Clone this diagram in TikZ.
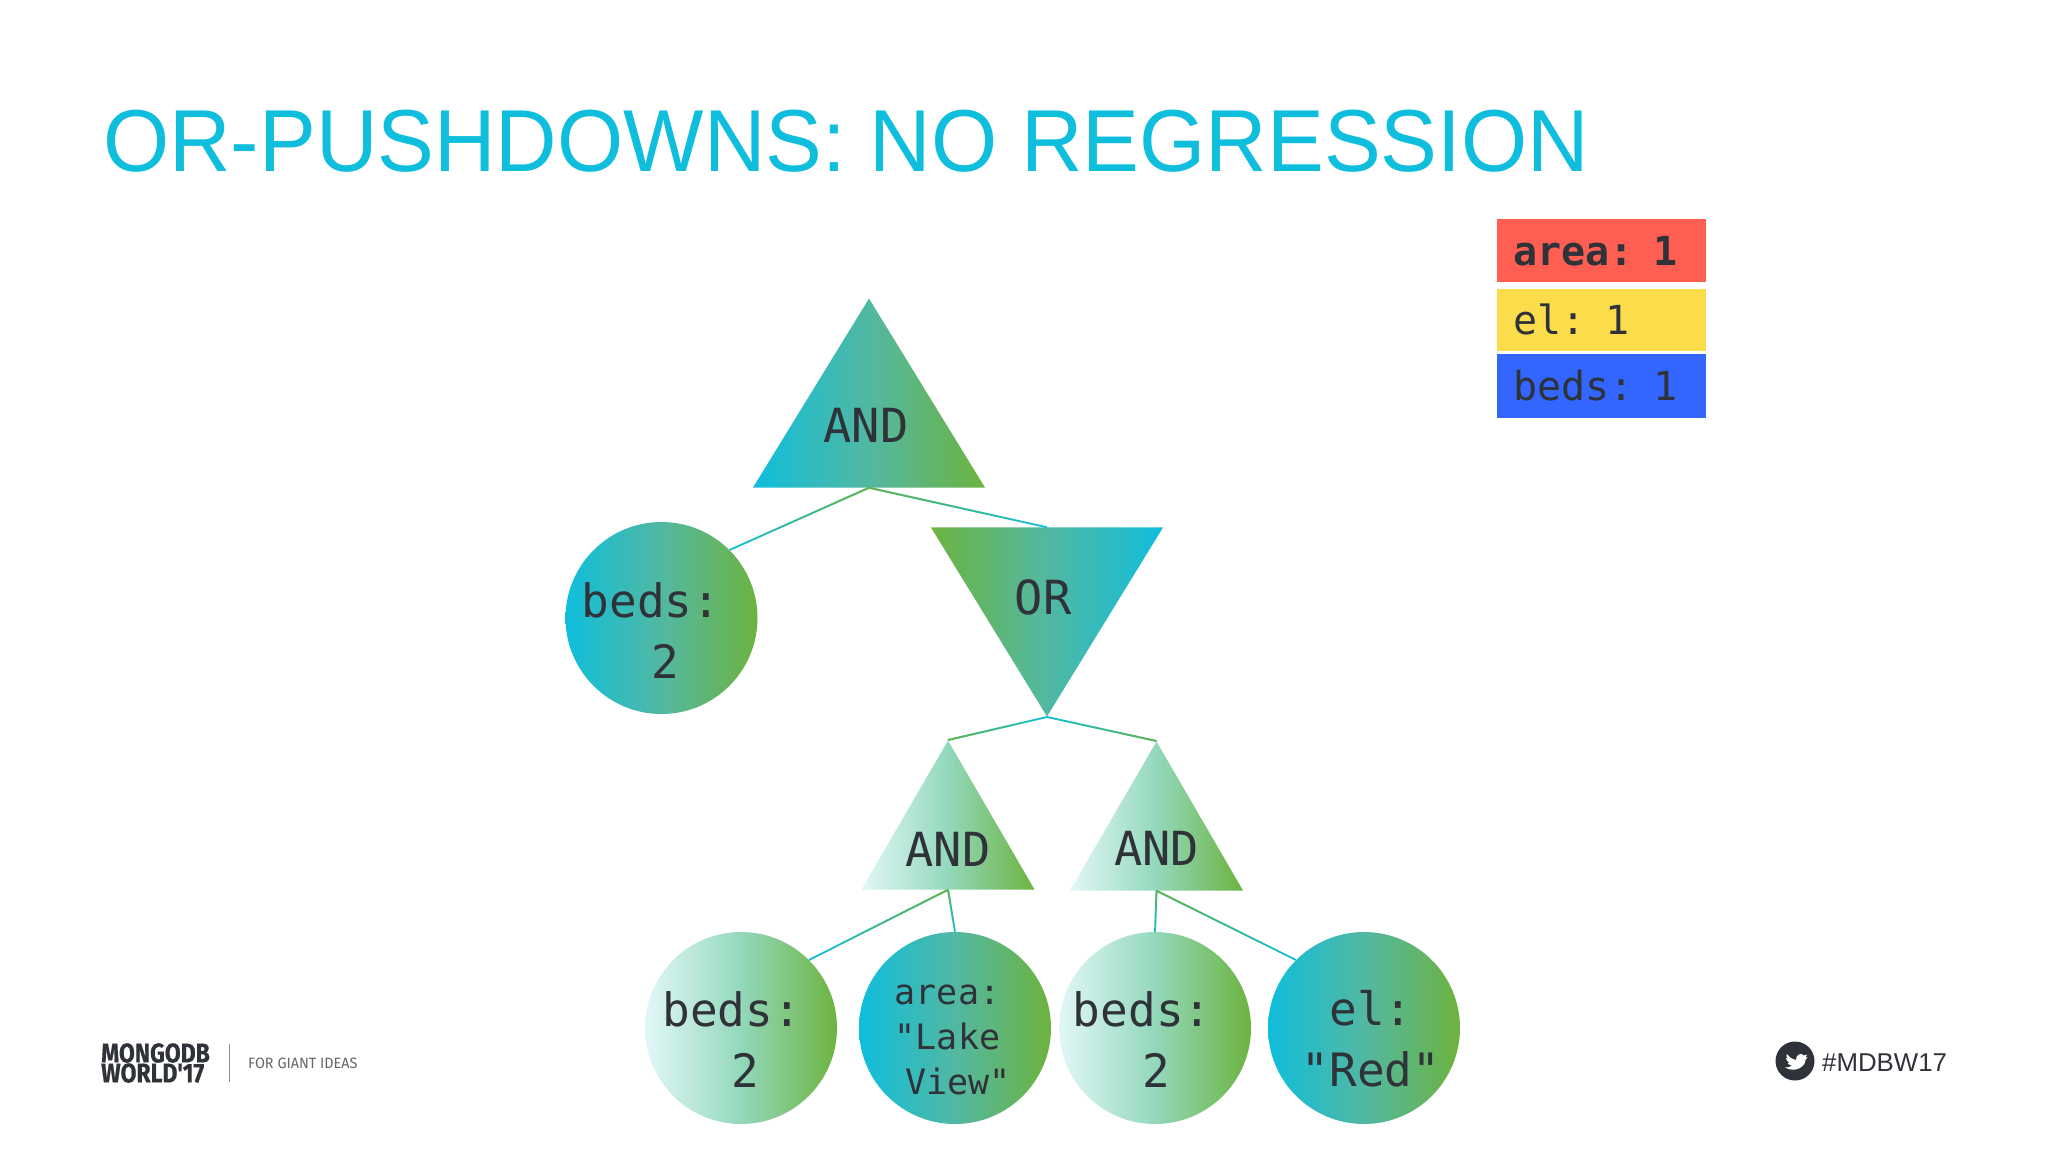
\documentclass[tikz,border=0pt]{standalone}
\usepackage{fontspec}
\setmainfont{Liberation Sans}
\setmonofont{DejaVu Sans Mono}
\newfontfamily\titlefont[FakeStretch=0.968]{Liberation Sans}
\newfontfamily\logofont[FakeStretch=0.85, FakeBold=0.6]{Fira Sans Bold}
\newfontfamily\sloganfont[FakeStretch=0.96]{Fira Sans}
\usetikzlibrary{shapes.geometric, positioning, fadings, calc}
\definecolor{mdbcyan}{HTML}{0FBEDC}
\definecolor{mdbgreen}{HTML}{6DB33F}
\definecolor{mdbpale}{HTML}{E2F7F7}
\definecolor{mdbmid}{HTML}{52B8A2}
\definecolor{mdbpalemid}{HTML}{93D8BC}
\definecolor{inkgrey}{HTML}{2F3238}
\definecolor{cntred}{HTML}{FF5F52}
\definecolor{cntyellow}{HTML}{FBDD4C}
\definecolor{cntblue}{HTML}{3366FF}
\newcommand{\nudge}[1]{\hspace*{#1}}
\newcommand{\drop}[1]{\rule{0pt}{#1}}
\newcommand{\slim}[1]{\makebox[0pt]{#1}}
\tikzset{
    optri/.style={
        isosceles triangle,
        isosceles triangle stretches,
        shape border rotate=#1,
        inner sep=0pt,
        text=inkgrey,
        font=\ttfamily\fontsize{47}{56}\selectfont
    },
    bigtri/.style={optri=#1, minimum width=232pt, minimum height=189pt},
    smalltri/.style={optri=#1, minimum width=173pt, minimum height=149pt},
    leaf/.style={
        circle,
        minimum size=192pt,
        inner sep=-14pt,
        text=inkgrey,
        align=center,
        font=\ttfamily\fontsize{46}{61}\selectfont
    },
    strong/.style={left color=mdbcyan, right color=mdbgreen, middle color=mdbmid},
    strongrev/.style={left color=mdbgreen, right color=mdbcyan, middle color=mdbmid},
    pale/.style={left color=mdbpale, right color=mdbgreen, middle color=mdbpalemid},
    counter/.style={
        rectangle,
        anchor=north west,
        minimum width=209pt,
        text width=177pt,
        inner xsep=16pt,
        inner ysep=0pt,
        align=left,
        text=inkgrey,
        font=\ttfamily\fontsize{40}{47}\selectfont
    },
    link/.style={
        line width=1.8pt,
        draw=mdbcyan,
        postaction={draw=mdbgreen, path fading=#1}
    },
    steeplink/.style={
        line width=1.8pt,
        draw=mdbcyan,
        postaction={draw=mdbgreen, path fading=south, fit fading=false, fading transform={shift={(#1)}}}
    }
}

\begin{document}
\begin{tikzpicture}[x=1pt, y=-1pt]
    \useasboundingbox (0,0) rectangle (2048,1152);

    \node[anchor=base west, inner sep=0pt, text=mdbcyan, font=\titlefont\fontsize{88}{100}\selectfont] (title) at (103,171) {OR-PUSHDOWNS: NO REGRESSION};

    % counters
    \node[counter, fill=cntred, minimum height=63pt] (cntarea) at (1497,219) {\textbf{area: 1}};
    \node[counter, fill=cntyellow, minimum height=62pt, below=6pt of cntarea.south west, anchor=north west] (cntel) {el: 1};
    \node[counter, fill=cntblue, minimum height=64pt, below=3pt of cntel.south west, anchor=north west] (cntbeds) {beds: 1};

    % query tree
    \node[bigtri=90, strong, anchor=apex, text depth=26pt] (andtop) at (869,298) {AND\nudge{6pt}};
    \node[bigtri=-90, strongrev, anchor=apex, text height=61pt] (ormid) at (1047,717) {OR\nudge{8pt}};
    \node[leaf, strong] (bedsa) at (661.5,618) {\drop{59pt}\nudge{7pt}beds:\hphantom{0}\\\nudge{7pt}2};
    \node[smalltri=90, pale, anchor=apex, text height=79pt] (andl) at (948,740) {\slim{AND}};
    \node[smalltri=90, pale, anchor=apex, text height=74pt] (andr) at (1156.5,741) {\slim{AND}};
    \node[leaf, pale] (bedsb) at (741,1028) {\drop{57pt}\nudge{9pt}beds:\hphantom{0}\\\nudge{9pt}2};
    \node[leaf, strong, font=\ttfamily\fontsize{35}{45}\selectfont] (areal) at (955,1028) {\drop{43pt}\nudge{6pt}area:\hphantom{0}\\\nudge{6pt}"Lake\hphantom{0}\\\nudge{6pt}View"};
    \node[leaf, pale] (bedsc) at (1155,1028) {\drop{57pt}\nudge{2pt}beds:\hphantom{0}\\\nudge{2pt}2};
    \node[leaf, strong] (elr) at (1364,1028) {\drop{57pt}\nudge{14pt}el:\\\nudge{14pt}"Red"};

    \draw[link=west] (andtop.south) -- (bedsa.45);
    \draw[link=east] (andtop.south) -- (ormid.north);
    \draw[link=east] (ormid.apex) -- (andl.apex);
    \draw[link=west] (ormid.apex) -- (andr.apex);
    \draw[link=west] (andl.south) -- (bedsb.45);
    \draw[steeplink={$(andl.south)!.5!(areal.north)$}] (andl.south) -- (areal.north);
    \draw[steeplink={$(andr.south)!.5!(bedsc.north)$}] (andr.south) -- (bedsc.north);
    \draw[link=east] (andr.south) -- (elr.135);

    % footer
    \node[anchor=north west, inner sep=0pt, align=left, text=inkgrey, font=\logofont\fontsize{27}{20}\selectfont] (logo) at (101,1043) {MONGODB\\WORLD'17};
    \node[anchor=west, inner sep=0pt, text=black!60, font=\sloganfont\fontsize{15}{18}\selectfont] (slogan) at (248,1063) {FOR GIANT IDEAS};
    \coordinate (bartop) at (229,1044);
    \coordinate (barbot) at (229,1082);
    \draw[black!45, line width=1pt] (bartop) -- (barbot);

    \node[circle, fill=inkgrey, minimum size=39pt, inner sep=0pt] (twitter) at (1795,1061) {};
    \fill[white] (1787,1054) .. controls (1790,1058) and (1793,1059.5) .. (1796,1060)
        .. controls (1795.5,1055) and (1801,1052) .. (1804,1055.5)
        -- (1807,1054.5) -- (1805.5,1057.5) -- (1807.5,1057)
        .. controls (1806.5,1058.5) and (1806,1059) .. (1805.5,1060)
        .. controls (1805.5,1066) and (1796,1073.5) .. (1785,1067.5)
        .. controls (1788,1067.5) and (1790,1067) .. (1792,1065.5)
        .. controls (1789.5,1065.5) and (1788,1064) .. (1787.5,1062.5)
        -- (1789.5,1062.5) .. controls (1787,1061.5) and (1786,1059.5) .. (1786,1058)
        -- (1788,1058.5) .. controls (1786,1057) and (1786,1055.5) .. (1787,1054) -- cycle;
    \node[anchor=west, inner sep=0pt, text=inkgrey, font=\fontsize{25.8}{30}\selectfont] (tag) at (1822,1063) {\#MDBW17};
\end{tikzpicture}
\end{document}
